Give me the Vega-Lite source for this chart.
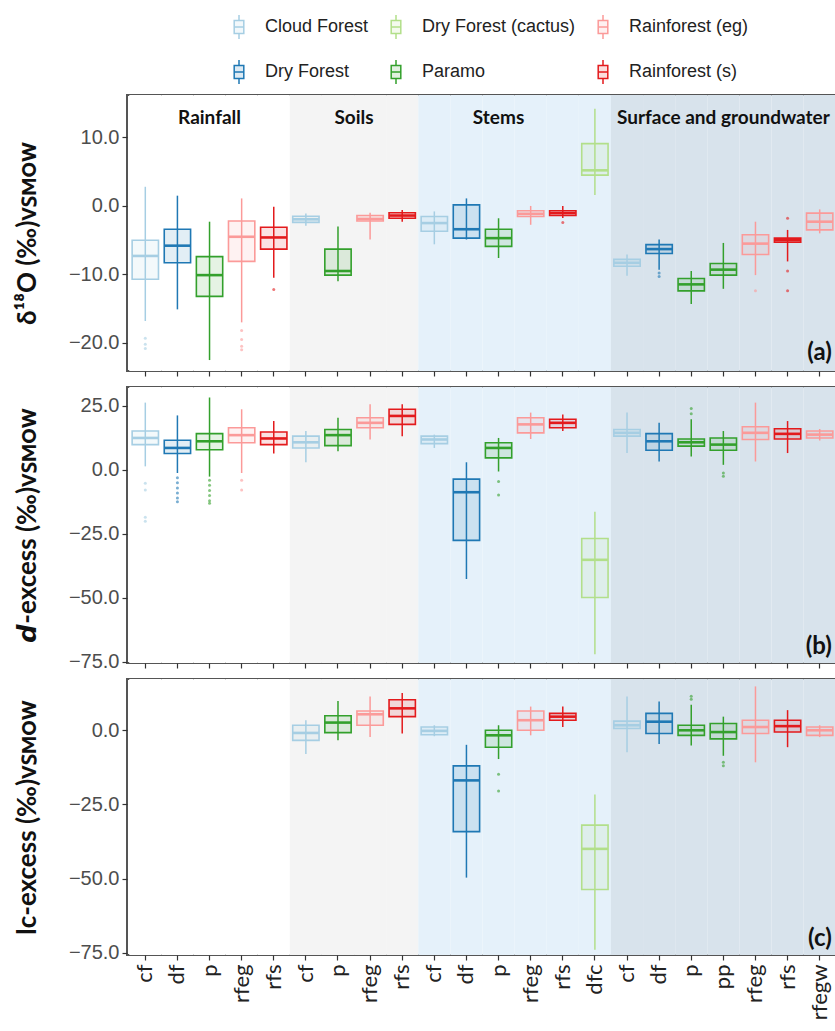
{
  "$schema": "https://vega.github.io/schema/vega-lite/v6.json",
  "padding": {"left": 13, "top": 14, "right": 0, "bottom": 0},
  "spacing": 16,
  "bounds": "flush",
  "config": {
    "view": {"stroke": "#555555", "strokeWidth": 2},
    "axis": {"grid": false, "domain": false, "tickColor": "#333333", "tickSize": 5, "tickWidth": 1.2,
      "labelFont": "Liberation Sans", "labelFontSize": 20, "labelColor": "#4d4d4d", "labelPadding": 3,
      "titleFont": "Lato", "titleFontSize": 26, "titleFontWeight": "bold", "titleColor": "#111111", "titlePadding": 28},
    "legend": {"orient": "none", "legendX": 99, "legendY": -81, "direction": "horizontal", "columns": 3,
      "padding": 0, "columnPadding": 14, "rowPadding": 15, "labelOffset": 13,
      "labelFont": "Liberation Sans", "labelFontSize": 18, "labelColor": "#222222",
      "symbolType": "M-0.4,-0.55H0.4V0.55H-0.4Z M-0.4,0H0.4 M0,-0.55V-1 M0,0.55V1",
      "symbolSize": 576, "symbolStrokeWidth": 1.5}
  },
  "datasets": {
    "bg": [
      {"id": "R_cf", "section": "Rainfall"}, {"id": "R_df", "section": "Rainfall"}, {"id": "R_p", "section": "Rainfall"}, {"id": "R_rfeg", "section": "Rainfall"}, {"id": "R_rfs", "section": "Rainfall"},
      {"id": "So_cf", "section": "Soils"}, {"id": "So_p", "section": "Soils"}, {"id": "So_rfeg", "section": "Soils"}, {"id": "So_rfs", "section": "Soils"},
      {"id": "St_cf", "section": "Stems"}, {"id": "St_df", "section": "Stems"}, {"id": "St_p", "section": "Stems"}, {"id": "St_rfeg", "section": "Stems"}, {"id": "St_rfs", "section": "Stems"}, {"id": "St_dfc", "section": "Stems"},
      {"id": "Sw_cf", "section": "Surface and groundwater"}, {"id": "Sw_df", "section": "Surface and groundwater"}, {"id": "Sw_p", "section": "Surface and groundwater"}, {"id": "Sw_pp", "section": "Surface and groundwater"}, {"id": "Sw_rfeg", "section": "Surface and groundwater"}, {"id": "Sw_rfs", "section": "Surface and groundwater"}, {"id": "Sw_rfegw", "section": "Surface and groundwater"}
    ],
    "sections": [
      {"id": "R_p", "label": "Rainfall"},
      {"id": "So_p", "label": "Soils"},
      {"id": "St_p", "label": "Stems"},
      {"id": "Sw_pp", "label": "Surface and groundwater"}
    ],
    "boxes": [
      {"panel": "a", "id": "R_cf", "group": "Cloud Forest", "lo": -16.8, "q1": -10.7, "med": -7.3, "q3": -5.0, "hi": 2.8},
      {"panel": "a", "id": "R_df", "group": "Dry Forest", "lo": -15.1, "q1": -8.3, "med": -5.8, "q3": -3.4, "hi": 1.5},
      {"panel": "a", "id": "R_p", "group": "Paramo", "lo": -22.5, "q1": -13.2, "med": -10.1, "q3": -7.4, "hi": -2.3},
      {"panel": "a", "id": "R_rfeg", "group": "Rainforest (eg)", "lo": -17.0, "q1": -8.1, "med": -4.5, "q3": -2.2, "hi": 1.1},
      {"panel": "a", "id": "R_rfs", "group": "Rainforest (s)", "lo": -10.5, "q1": -6.3, "med": -4.6, "q3": -3.1, "hi": -0.1},
      {"panel": "a", "id": "So_cf", "group": "Cloud Forest", "lo": -2.9, "q1": -2.4, "med": -1.95, "q3": -1.5, "hi": -1.1},
      {"panel": "a", "id": "So_p", "group": "Paramo", "lo": -11.0, "q1": -10.1, "med": -9.5, "q3": -6.3, "hi": -3.0},
      {"panel": "a", "id": "So_rfeg", "group": "Rainforest (eg)", "lo": -4.9, "q1": -2.2, "med": -1.9, "q3": -1.4, "hi": -1.0},
      {"panel": "a", "id": "So_rfs", "group": "Rainforest (s)", "lo": -2.3, "q1": -1.8, "med": -1.4, "q3": -1.0, "hi": -0.6},
      {"panel": "a", "id": "St_cf", "group": "Cloud Forest", "lo": -5.6, "q1": -3.7, "med": -2.5, "q3": -1.55, "hi": -0.8},
      {"panel": "a", "id": "St_df", "group": "Dry Forest", "lo": -4.9, "q1": -4.7, "med": -3.4, "q3": 0.15, "hi": 1.1},
      {"panel": "a", "id": "St_p", "group": "Paramo", "lo": -7.6, "q1": -5.9, "med": -4.7, "q3": -3.4, "hi": -1.8},
      {"panel": "a", "id": "St_rfeg", "group": "Rainforest (eg)", "lo": -2.75, "q1": -1.55, "med": -1.15, "q3": -0.7, "hi": 0.0},
      {"panel": "a", "id": "St_rfs", "group": "Rainforest (s)", "lo": -1.75, "q1": -1.4, "med": -1.05, "q3": -0.7, "hi": 0.0},
      {"panel": "a", "id": "St_dfc", "group": "Dry Forest (cactus)", "lo": 1.6, "q1": 4.5, "med": 5.2, "q3": 9.1, "hi": 14.2},
      {"panel": "a", "id": "Sw_cf", "group": "Cloud Forest", "lo": -10.2, "q1": -8.8, "med": -8.3, "q3": -7.8, "hi": -7.1},
      {"panel": "a", "id": "Sw_df", "group": "Dry Forest", "lo": -9.3, "q1": -6.95, "med": -6.3, "q3": -5.65, "hi": -4.9},
      {"panel": "a", "id": "Sw_p", "group": "Paramo", "lo": -14.3, "q1": -12.4, "med": -11.45, "q3": -10.6, "hi": -9.5},
      {"panel": "a", "id": "Sw_pp", "group": "Paramo", "lo": -12.1, "q1": -10.1, "med": -9.3, "q3": -8.4, "hi": -5.4},
      {"panel": "a", "id": "Sw_rfeg", "group": "Rainforest (eg)", "lo": -10.1, "q1": -7.1, "med": -5.5, "q3": -4.2, "hi": -2.3},
      {"panel": "a", "id": "Sw_rfs", "group": "Rainforest (s)", "lo": -8.1, "q1": -5.3, "med": -5.0, "q3": -4.7, "hi": -3.5},
      {"panel": "a", "id": "Sw_rfegw", "group": "Rainforest (eg)", "lo": -4.0, "q1": -3.5, "med": -2.3, "q3": -1.05, "hi": -0.5},

      {"panel": "b", "id": "R_cf", "group": "Cloud Forest", "lo": 1.4, "q1": 9.9, "med": 12.5, "q3": 15.2, "hi": 26.3},
      {"panel": "b", "id": "R_df", "group": "Dry Forest", "lo": -1.2, "q1": 6.4, "med": 8.6, "q3": 11.6, "hi": 21.3},
      {"panel": "b", "id": "R_p", "group": "Paramo", "lo": -2.6, "q1": 7.9, "med": 11.2, "q3": 14.2, "hi": 28.3},
      {"panel": "b", "id": "R_rfeg", "group": "Rainforest (eg)", "lo": -1.2, "q1": 10.6, "med": 13.6, "q3": 16.5, "hi": 23.7},
      {"panel": "b", "id": "R_rfs", "group": "Rainforest (s)", "lo": 6.4, "q1": 9.9, "med": 12.3, "q3": 14.8, "hi": 19.1},
      {"panel": "b", "id": "So_cf", "group": "Cloud Forest", "lo": 3.0, "q1": 8.6, "med": 10.8, "q3": 13.2, "hi": 15.2},
      {"panel": "b", "id": "So_p", "group": "Paramo", "lo": 7.3, "q1": 9.5, "med": 13.6, "q3": 15.8, "hi": 20.4},
      {"panel": "b", "id": "So_rfeg", "group": "Rainforest (eg)", "lo": 11.9, "q1": 16.5, "med": 18.4, "q3": 20.4, "hi": 25.7},
      {"panel": "b", "id": "So_rfs", "group": "Rainforest (s)", "lo": 13.2, "q1": 17.8, "med": 21.1, "q3": 23.7, "hi": 25.7},
      {"panel": "b", "id": "St_cf", "group": "Cloud Forest", "lo": 8.6, "q1": 10.3, "med": 11.9, "q3": 13.2, "hi": 13.8},
      {"panel": "b", "id": "St_df", "group": "Dry Forest", "lo": -42.6, "q1": -27.5, "med": -8.7, "q3": -3.6, "hi": 3.0},
      {"panel": "b", "id": "St_p", "group": "Paramo", "lo": -0.6, "q1": 4.7, "med": 8.6, "q3": 10.6, "hi": 12.5},
      {"panel": "b", "id": "St_rfeg", "group": "Rainforest (eg)", "lo": 12.1, "q1": 14.5, "med": 17.8, "q3": 20.4, "hi": 22.4},
      {"panel": "b", "id": "St_rfs", "group": "Rainforest (s)", "lo": 15.2, "q1": 16.5, "med": 18.4, "q3": 19.8, "hi": 21.7},
      {"panel": "b", "id": "St_dfc", "group": "Dry Forest (cactus)", "lo": -72.0, "q1": -49.8, "med": -35.1, "q3": -26.8, "hi": -16.3},
      {"panel": "b", "id": "Sw_cf", "group": "Cloud Forest", "lo": 6.6, "q1": 13.2, "med": 14.5, "q3": 15.8, "hi": 22.4},
      {"panel": "b", "id": "Sw_df", "group": "Dry Forest", "lo": 3.3, "q1": 7.7, "med": 11.2, "q3": 14.2, "hi": 18.4},
      {"panel": "b", "id": "Sw_p", "group": "Paramo", "lo": 5.3, "q1": 9.3, "med": 10.8, "q3": 12.1, "hi": 19.8},
      {"panel": "b", "id": "Sw_pp", "group": "Paramo", "lo": 2.0, "q1": 7.7, "med": 9.9, "q3": 12.5, "hi": 15.2},
      {"panel": "b", "id": "Sw_rfeg", "group": "Rainforest (eg)", "lo": 3.3, "q1": 11.9, "med": 14.5, "q3": 16.9, "hi": 26.3},
      {"panel": "b", "id": "Sw_rfs", "group": "Rainforest (s)", "lo": 6.6, "q1": 12.1, "med": 14.1, "q3": 16.1, "hi": 19.1},
      {"panel": "b", "id": "Sw_rfegw", "group": "Rainforest (eg)", "lo": 11.5, "q1": 12.5, "med": 13.8, "q3": 15.2, "hi": 16.0},

      {"panel": "c", "id": "So_cf", "group": "Cloud Forest", "lo": -8.0, "q1": -3.4, "med": -0.9, "q3": 1.7, "hi": 3.4},
      {"panel": "c", "id": "So_p", "group": "Paramo", "lo": -3.4, "q1": -0.8, "med": 2.6, "q3": 4.9, "hi": 9.9},
      {"panel": "c", "id": "So_rfeg", "group": "Rainforest (eg)", "lo": -2.3, "q1": 1.7, "med": 5.4, "q3": 6.5, "hi": 11.4},
      {"panel": "c", "id": "So_rfs", "group": "Rainforest (s)", "lo": -1.1, "q1": 4.6, "med": 7.4, "q3": 10.3, "hi": 12.6},
      {"panel": "c", "id": "St_cf", "group": "Cloud Forest", "lo": -2.0, "q1": -1.5, "med": -0.2, "q3": 1.1, "hi": 1.7},
      {"panel": "c", "id": "St_df", "group": "Dry Forest", "lo": -49.7, "q1": -34.2, "med": -16.9, "q3": -12.0, "hi": -4.9},
      {"panel": "c", "id": "St_p", "group": "Paramo", "lo": -9.7, "q1": -5.7, "med": -1.7, "q3": 0.0, "hi": 1.7},
      {"panel": "c", "id": "St_rfeg", "group": "Rainforest (eg)", "lo": -1.7, "q1": 0.0, "med": 3.4, "q3": 6.5, "hi": 8.0},
      {"panel": "c", "id": "St_rfs", "group": "Rainforest (s)", "lo": 1.1, "q1": 3.4, "med": 4.6, "q3": 5.7, "hi": 8.0},
      {"panel": "c", "id": "St_dfc", "group": "Dry Forest (cactus)", "lo": -74.0, "q1": -53.7, "med": -40.0, "q3": -32.0, "hi": -21.7},
      {"panel": "c", "id": "Sw_cf", "group": "Cloud Forest", "lo": -7.4, "q1": 0.6, "med": 1.7, "q3": 3.1, "hi": 11.4},
      {"panel": "c", "id": "Sw_df", "group": "Dry Forest", "lo": -4.6, "q1": -1.1, "med": 2.9, "q3": 5.7, "hi": 9.7},
      {"panel": "c", "id": "Sw_p", "group": "Paramo", "lo": -5.1, "q1": -1.7, "med": 0.0, "q3": 1.7, "hi": 8.6},
      {"panel": "c", "id": "Sw_pp", "group": "Paramo", "lo": -8.6, "q1": -2.9, "med": -0.6, "q3": 2.3, "hi": 4.6},
      {"panel": "c", "id": "Sw_rfeg", "group": "Rainforest (eg)", "lo": -10.8, "q1": -1.1, "med": 1.1, "q3": 3.4, "hi": 14.8},
      {"panel": "c", "id": "Sw_rfs", "group": "Rainforest (s)", "lo": -5.7, "q1": -0.6, "med": 1.4, "q3": 3.4, "hi": 6.8},
      {"panel": "c", "id": "Sw_rfegw", "group": "Rainforest (eg)", "lo": -2.3, "q1": -1.7, "med": 0.0, "q3": 1.1, "hi": 1.7}
    ],
    "outliers": [
      {"panel": "a", "id": "R_cf", "group": "Cloud Forest", "v": -19.3},
      {"panel": "a", "id": "R_cf", "group": "Cloud Forest", "v": -20.2},
      {"panel": "a", "id": "R_cf", "group": "Cloud Forest", "v": -20.8},
      {"panel": "a", "id": "R_rfeg", "group": "Rainforest (eg)", "v": -18.2},
      {"panel": "a", "id": "R_rfeg", "group": "Rainforest (eg)", "v": -19.5},
      {"panel": "a", "id": "R_rfeg", "group": "Rainforest (eg)", "v": -20.5},
      {"panel": "a", "id": "R_rfeg", "group": "Rainforest (eg)", "v": -21.0},
      {"panel": "a", "id": "R_rfs", "group": "Rainforest (s)", "v": -12.2},
      {"panel": "a", "id": "St_rfs", "group": "Rainforest (s)", "v": -2.4},
      {"panel": "a", "id": "Sw_df", "group": "Dry Forest", "v": -9.8},
      {"panel": "a", "id": "Sw_df", "group": "Dry Forest", "v": -10.3},
      {"panel": "a", "id": "Sw_rfeg", "group": "Rainforest (eg)", "v": -12.4},
      {"panel": "a", "id": "Sw_rfs", "group": "Rainforest (s)", "v": -1.8},
      {"panel": "a", "id": "Sw_rfs", "group": "Rainforest (s)", "v": -9.5},
      {"panel": "a", "id": "Sw_rfs", "group": "Rainforest (s)", "v": -12.4},
      {"panel": "b", "id": "R_cf", "group": "Cloud Forest", "v": -5.2},
      {"panel": "b", "id": "R_cf", "group": "Cloud Forest", "v": -7.8},
      {"panel": "b", "id": "R_cf", "group": "Cloud Forest", "v": -18.5},
      {"panel": "b", "id": "R_cf", "group": "Cloud Forest", "v": -20.0},
      {"panel": "b", "id": "R_df", "group": "Dry Forest", "v": -3.0},
      {"panel": "b", "id": "R_df", "group": "Dry Forest", "v": -5.0},
      {"panel": "b", "id": "R_df", "group": "Dry Forest", "v": -7.0},
      {"panel": "b", "id": "R_df", "group": "Dry Forest", "v": -9.0},
      {"panel": "b", "id": "R_df", "group": "Dry Forest", "v": -11.0},
      {"panel": "b", "id": "R_df", "group": "Dry Forest", "v": -12.4},
      {"panel": "b", "id": "R_p", "group": "Paramo", "v": -4.0},
      {"panel": "b", "id": "R_p", "group": "Paramo", "v": -6.0},
      {"panel": "b", "id": "R_p", "group": "Paramo", "v": -8.0},
      {"panel": "b", "id": "R_p", "group": "Paramo", "v": -10.0},
      {"panel": "b", "id": "R_p", "group": "Paramo", "v": -12.0},
      {"panel": "b", "id": "R_p", "group": "Paramo", "v": -13.0},
      {"panel": "b", "id": "R_rfeg", "group": "Rainforest (eg)", "v": -4.0},
      {"panel": "b", "id": "R_rfeg", "group": "Rainforest (eg)", "v": -7.8},
      {"panel": "b", "id": "St_p", "group": "Paramo", "v": -4.5},
      {"panel": "b", "id": "St_p", "group": "Paramo", "v": -9.8},
      {"panel": "b", "id": "Sw_p", "group": "Paramo", "v": 22.0},
      {"panel": "b", "id": "Sw_p", "group": "Paramo", "v": 24.0},
      {"panel": "b", "id": "Sw_pp", "group": "Paramo", "v": -1.2},
      {"panel": "b", "id": "Sw_pp", "group": "Paramo", "v": -2.5},
      {"panel": "c", "id": "St_p", "group": "Paramo", "v": -14.8},
      {"panel": "c", "id": "St_p", "group": "Paramo", "v": -20.5},
      {"panel": "c", "id": "Sw_p", "group": "Paramo", "v": 10.5},
      {"panel": "c", "id": "Sw_p", "group": "Paramo", "v": 11.5},
      {"panel": "c", "id": "Sw_pp", "group": "Paramo", "v": -10.8},
      {"panel": "c", "id": "Sw_pp", "group": "Paramo", "v": -12.0}
    ]
  },
  "vconcat": [
    {
      "width": 711, "height": 276,
      "layer": [
        {"data": {"name": "bg"}, "mark": {"type": "rect"},
         "encoding": {
           "x": {"field": "id", "type": "nominal", "title": null,
             "scale": {"type": "band", "paddingInner": 0, "paddingOuter": 0.07, "domain": ["R_cf","R_df","R_p","R_rfeg","R_rfs","So_cf","So_p","So_rfeg","So_rfs","St_cf","St_df","St_p","St_rfeg","St_rfs","St_dfc","Sw_cf","Sw_df","Sw_p","Sw_pp","Sw_rfeg","Sw_rfs","Sw_rfegw"]},
             "axis": {"labels": false}},
           "fill": {"field": "section", "type": "nominal", "legend": null,
             "scale": {"domain": ["Rainfall","Soils","Stems","Surface and groundwater"], "range": ["#FFFFFF","#F4F4F4","#E5F1FA","#D8E3EC"]}}
         }},
        {"data": {"name": "boxes"}, "transform": [{"filter": "datum.panel == 'a'"}],
         "mark": {"type": "rule", "strokeWidth": 1.5},
         "encoding": {
           "x": {"field": "id", "type": "nominal", "title": null},
           "y": {"field": "lo", "type": "quantitative", "title": "δ¹⁸O (‰)ᴠꜱᴍᴏᴡ",
             "scale": {"domain": [-24.1, 16.2], "nice": false, "zero": false},
             "axis": {"values": [-20, -10, 0, 10], "format": ".1f"}},
           "y2": {"field": "hi"},
           "stroke": {"field": "group", "type": "nominal", "title": null,
             "scale": {"domain": ["Cloud Forest","Dry Forest (cactus)","Rainforest (eg)","Dry Forest","Paramo","Rainforest (s)"], "range": ["#A6CEE3","#B2DF8A","#FB9A99","#1F78B4","#33A02C","#E31A1C"]},
             "legend": {"encode": {"symbols": {"update": {"fill": {"scale": "stroke", "field": "value"}, "fillOpacity": {"value": 0.15}, "stroke": {"scale": "stroke", "field": "value"}}}}}}
         }},
        {"data": {"name": "boxes"}, "transform": [{"filter": "datum.panel == 'a'"}],
         "mark": {"type": "bar", "width": {"band": 0.82}, "fillOpacity": 0.13, "strokeWidth": 1.6},
         "encoding": {
           "x": {"field": "id", "type": "nominal", "title": null},
           "y": {"field": "q1", "type": "quantitative", "title": "δ¹⁸O (‰)ᴠꜱᴍᴏᴡ"},
           "y2": {"field": "q3"},
           "color": {"field": "group", "type": "nominal", "legend": null,
             "scale": {"domain": ["Cloud Forest","Dry Forest (cactus)","Rainforest (eg)","Dry Forest","Paramo","Rainforest (s)"], "range": ["#A6CEE3","#B2DF8A","#FB9A99","#1F78B4","#33A02C","#E31A1C"]}},
           "stroke": {"field": "group", "type": "nominal", "title": null}
         }},
        {"data": {"name": "boxes"}, "transform": [{"filter": "datum.panel == 'a'"}],
         "mark": {"type": "tick", "size": 26, "thickness": 2.6, "opacity": 1},
         "encoding": {
           "x": {"field": "id", "type": "nominal", "title": null},
           "y": {"field": "med", "type": "quantitative", "title": "δ¹⁸O (‰)ᴠꜱᴍᴏᴡ"},
           "color": {"field": "group", "type": "nominal", "legend": null}
         }},
        {"data": {"name": "outliers"}, "transform": [{"filter": "datum.panel == 'a'"}],
         "mark": {"type": "point", "filled": true, "size": 9, "opacity": 0.6},
         "encoding": {
           "x": {"field": "id", "type": "nominal", "title": null},
           "y": {"field": "v", "type": "quantitative", "title": "δ¹⁸O (‰)ᴠꜱᴍᴏᴡ"},
           "color": {"field": "group", "type": "nominal", "legend": null}
         }},
        {"data": {"name": "sections"}, "transform": [{"filter": "datum.label != 'Soils'"}],
         "mark": {"type": "text", "font": "Lato", "fontWeight": "bold", "fontSize": 19, "color": "#111111", "baseline": "middle"},
         "encoding": {
           "x": {"field": "id", "type": "nominal", "title": null},
           "y": {"datum": 12.9},
           "text": {"field": "label"}
         }},
        {"data": {"name": "sections"}, "transform": [{"filter": "datum.label == 'Soils'"}],
         "mark": {"type": "text", "font": "Lato", "fontWeight": "bold", "fontSize": 19, "color": "#111111", "baseline": "middle"},
         "encoding": {
           "x": {"field": "id", "type": "nominal", "title": null, "bandPosition": 1},
           "y": {"datum": 12.9},
           "text": {"field": "label"}
         }},
        {"data": {"values": [{"id": "Sw_rfegw", "t": "(a)"}]},
         "mark": {"type": "text", "font": "Lato", "fontWeight": "bold", "fontSize": 24, "color": "#111111", "align": "right", "baseline": "middle", "dx": -4},
         "encoding": {
           "x": {"field": "id", "type": "nominal", "title": null, "bandPosition": 1},
           "y": {"datum": -21.4},
           "text": {"field": "t"}
         }}
      ]
    },
    {
      "width": 711, "height": 276,
      "layer": [
        {"data": {"name": "bg"}, "mark": {"type": "rect"},
         "encoding": {
           "x": {"field": "id", "type": "nominal", "title": null,
             "scale": {"type": "band", "paddingInner": 0, "paddingOuter": 0.07, "domain": ["R_cf","R_df","R_p","R_rfeg","R_rfs","So_cf","So_p","So_rfeg","So_rfs","St_cf","St_df","St_p","St_rfeg","St_rfs","St_dfc","Sw_cf","Sw_df","Sw_p","Sw_pp","Sw_rfeg","Sw_rfs","Sw_rfegw"]},
             "axis": {"labels": false}},
           "fill": {"field": "section", "type": "nominal", "legend": null}
         }},
        {"data": {"name": "boxes"}, "transform": [{"filter": "datum.panel == 'b'"}],
         "mark": {"type": "rule", "strokeWidth": 1.5},
         "encoding": {
           "x": {"field": "id", "type": "nominal", "title": null},
           "y": {"field": "lo", "type": "quantitative", "title": "𝙙-excess (‰)ᴠꜱᴍᴏᴡ",
             "scale": {"domain": [-75.4, 32.4], "nice": false, "zero": false},
             "axis": {"values": [-75, -50, -25, 0, 25], "format": ".1f"}},
           "y2": {"field": "hi"},
           "stroke": {"field": "group", "type": "nominal", "title": null}
         }},
        {"data": {"name": "boxes"}, "transform": [{"filter": "datum.panel == 'b'"}],
         "mark": {"type": "bar", "width": {"band": 0.82}, "fillOpacity": 0.13, "strokeWidth": 1.6},
         "encoding": {
           "x": {"field": "id", "type": "nominal", "title": null},
           "y": {"field": "q1", "type": "quantitative", "title": "𝙙-excess (‰)ᴠꜱᴍᴏᴡ"},
           "y2": {"field": "q3"},
           "color": {"field": "group", "type": "nominal", "legend": null},
           "stroke": {"field": "group", "type": "nominal", "title": null}
         }},
        {"data": {"name": "boxes"}, "transform": [{"filter": "datum.panel == 'b'"}],
         "mark": {"type": "tick", "size": 26, "thickness": 2.6, "opacity": 1},
         "encoding": {
           "x": {"field": "id", "type": "nominal", "title": null},
           "y": {"field": "med", "type": "quantitative", "title": "𝙙-excess (‰)ᴠꜱᴍᴏᴡ"},
           "color": {"field": "group", "type": "nominal", "legend": null}
         }},
        {"data": {"name": "outliers"}, "transform": [{"filter": "datum.panel == 'b'"}],
         "mark": {"type": "point", "filled": true, "size": 9, "opacity": 0.6},
         "encoding": {
           "x": {"field": "id", "type": "nominal", "title": null},
           "y": {"field": "v", "type": "quantitative", "title": "𝙙-excess (‰)ᴠꜱᴍᴏᴡ"},
           "color": {"field": "group", "type": "nominal", "legend": null}
         }},
        {"data": {"values": [{"id": "Sw_rfegw", "t": "(b)"}]},
         "mark": {"type": "text", "font": "Lato", "fontWeight": "bold", "fontSize": 24, "color": "#111111", "align": "right", "baseline": "middle", "dx": -4},
         "encoding": {
           "x": {"field": "id", "type": "nominal", "title": null, "bandPosition": 1},
           "y": {"datum": -69},
           "text": {"field": "t"}
         }}
      ]
    },
    {
      "width": 711, "height": 276,
      "layer": [
        {"data": {"name": "bg"}, "mark": {"type": "rect"},
         "encoding": {
           "x": {"field": "id", "type": "nominal", "title": null,
             "scale": {"type": "band", "paddingInner": 0, "paddingOuter": 0.07, "domain": ["R_cf","R_df","R_p","R_rfeg","R_rfs","So_cf","So_p","So_rfeg","So_rfs","St_cf","St_df","St_p","St_rfeg","St_rfs","St_dfc","Sw_cf","Sw_df","Sw_p","Sw_pp","Sw_rfeg","Sw_rfs","Sw_rfegw"]},
             "axis": {"labelExpr": "split(datum.value, '_')[1]", "labelAngle": 270, "labelFont": "Lato", "labelFontSize": 22, "labelColor": "#222222", "labelPadding": 4}},
           "fill": {"field": "section", "type": "nominal", "legend": null}
         }},
        {"data": {"name": "boxes"}, "transform": [{"filter": "datum.panel == 'c'"}],
         "mark": {"type": "rule", "strokeWidth": 1.5},
         "encoding": {
           "x": {"field": "id", "type": "nominal", "title": null},
           "y": {"field": "lo", "type": "quantitative", "title": "lc-excess (‰)ᴠꜱᴍᴏᴡ",
             "scale": {"domain": [-75.8, 17.3], "nice": false, "zero": false},
             "axis": {"values": [-75, -50, -25, 0], "format": ".1f"}},
           "y2": {"field": "hi"},
           "stroke": {"field": "group", "type": "nominal", "title": null}
         }},
        {"data": {"name": "boxes"}, "transform": [{"filter": "datum.panel == 'c'"}],
         "mark": {"type": "bar", "width": {"band": 0.82}, "fillOpacity": 0.13, "strokeWidth": 1.6},
         "encoding": {
           "x": {"field": "id", "type": "nominal", "title": null},
           "y": {"field": "q1", "type": "quantitative", "title": "lc-excess (‰)ᴠꜱᴍᴏᴡ"},
           "y2": {"field": "q3"},
           "color": {"field": "group", "type": "nominal", "legend": null},
           "stroke": {"field": "group", "type": "nominal", "title": null}
         }},
        {"data": {"name": "boxes"}, "transform": [{"filter": "datum.panel == 'c'"}],
         "mark": {"type": "tick", "size": 26, "thickness": 2.6, "opacity": 1},
         "encoding": {
           "x": {"field": "id", "type": "nominal", "title": null},
           "y": {"field": "med", "type": "quantitative", "title": "lc-excess (‰)ᴠꜱᴍᴏᴡ"},
           "color": {"field": "group", "type": "nominal", "legend": null}
         }},
        {"data": {"name": "outliers"}, "transform": [{"filter": "datum.panel == 'c'"}],
         "mark": {"type": "point", "filled": true, "size": 9, "opacity": 0.6},
         "encoding": {
           "x": {"field": "id", "type": "nominal", "title": null},
           "y": {"field": "v", "type": "quantitative", "title": "lc-excess (‰)ᴠꜱᴍᴏᴡ"},
           "color": {"field": "group", "type": "nominal", "legend": null}
         }},
        {"data": {"values": [{"id": "Sw_rfegw", "t": "(c)"}]},
         "mark": {"type": "text", "font": "Lato", "fontWeight": "bold", "fontSize": 24, "color": "#111111", "align": "right", "baseline": "middle", "dx": -4},
         "encoding": {
           "x": {"field": "id", "type": "nominal", "title": null, "bandPosition": 1},
           "y": {"datum": -70.3},
           "text": {"field": "t"}
         }}
      ]
    }
  ]
}
